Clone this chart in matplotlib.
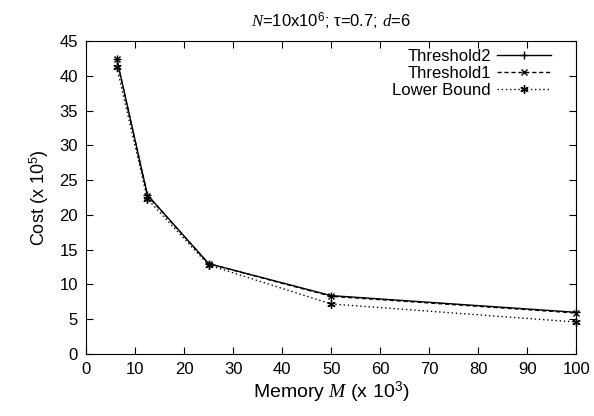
import matplotlib
matplotlib.use("Agg")
import matplotlib.pyplot as plt
from matplotlib.ticker import MultipleLocator

plt.rcParams['font.family'] = ['Liberation Sans', 'DejaVu Sans']
plt.rcParams['mathtext.fontset'] = 'custom'
plt.rcParams['mathtext.rm'] = 'Liberation Sans'
plt.rcParams['mathtext.it'] = 'Liberation Serif:italic'

memory = [6.25, 12.5, 25, 50, 100]
threshold2 = [42.5, 22.9, 13.0, 8.4, 6.0]
threshold1 = [42.4, 22.8, 13.0, 8.3, 5.9]
lower_bound = [41.3, 22.3, 12.8, 7.2, 4.6]

fig = plt.figure(figsize=(5.94, 4.16), dpi=100)
ax = fig.add_axes([0.145, 0.149, 0.825, 0.752])

ax.plot(memory, threshold2, color='black', linestyle='-', linewidth=1.0,
        marker='+', markersize=6, markeredgewidth=1.0, label='Threshold2', clip_on=False)
ax.plot(memory, threshold1, color='black', linestyle=(0, (3, 2)), linewidth=1.0,
        marker='x', markersize=5, markeredgewidth=1.0, label='Threshold1', clip_on=False)
ax.plot(memory, lower_bound, color='black', linestyle=(0, (1, 2)), linewidth=1.0,
        marker=(6, 2, 0), markersize=6, markeredgewidth=1.0, label='Lower Bound', clip_on=False)

ax.set_xlim(0, 100)
ax.set_ylim(0, 45)
ax.xaxis.set_major_locator(MultipleLocator(10))
ax.yaxis.set_major_locator(MultipleLocator(5))
ax.tick_params(direction='in', top=True, right=True, length=5, labelsize=12, pad=6)

ax.set_xlabel(r'Memory $M$ (x 10$^3$)', fontsize=14, labelpad=2)
ax.set_ylabel(r'Cost (x 10$^5$)', fontsize=13, labelpad=6)
ax.set_title(r'$N$=10x10$^6$; τ=0.7; $d$=6', fontsize=12, pad=10)

ax.legend(loc='upper right', bbox_to_anchor=(0.955, 0.985), frameon=False,
          markerfirst=False, fontsize=12, handlelength=3.2, labelspacing=0.1,
          borderaxespad=0, borderpad=0.2, handletextpad=0.4)

plt.savefig('out.png', dpi=100)
plt.close()
